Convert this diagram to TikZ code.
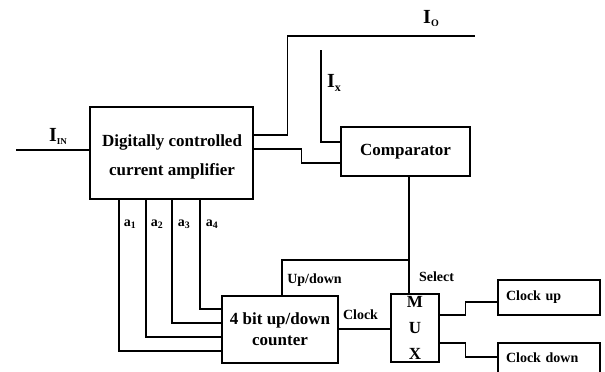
\documentclass[tikz,border=0pt]{standalone}
\usepackage{fontspec}
\setmainfont{Liberation Serif}
\begin{document}
\begin{tikzpicture}[x=1pt,y=-1pt,
  box/.style={draw, line width=1.1pt, inner sep=0pt},
  wire/.style={line width=1.1pt},
  big/.style={font=\bfseries\fontsize{17}{21}\selectfont},
  small/.style={font=\bfseries\fontsize{14}{16}\selectfont},
  clkbox/.style={box, small, text width=86pt, inner xsep=8pt, align=left, minimum width=102pt},
  alab/.style={font=\bfseries\fontsize{14}{16}\selectfont, inner sep=0pt},
  ilab/.style={inner sep=0pt}]
\useasboundingbox (0,0) rectangle (605,372);
\clip (0,0) rectangle (605,372);
% blocks
\node[box, minimum width=163pt, minimum height=92pt] (amp) at (171.5,153) {};
\node[align=center, font=\bfseries\fontsize{17}{29}\selectfont] (ampt) at (172,157) {Digitally controlled\\current amplifier};
\node[box, big, minimum width=129pt, minimum height=49pt] (cmp) at (405.5,151.5) {Comparator};
\node[box, align=center, font=\bfseries\fontsize{17}{21}\selectfont, minimum width=116pt, minimum height=67pt] (cnt) at (280,329.5) {4 bit up/down\\counter};
\node[box, align=center, font=\bfseries\fontsize{17}{26}\selectfont, minimum width=48pt, minimum height=68pt] (mux) at (415,328) {M\\U\\X};
\node[clkbox, minimum height=35pt] (cup) at (549,297.5) {Clock up};
\node[clkbox, minimum height=30pt] (cdn) at (549,358) {Clock down};
% free ends
\coordinate (iin) at (16,150);
\coordinate (io) at (475,36);
\coordinate (ix) at (321,50);
\coordinate (j) at (409,260);
% wires
\draw[wire] (iin) -- ([yshift=3pt]amp.west);
\draw[wire] ([yshift=18pt]amp.east) -- ++(34,0) |- (io);
\draw[wire] ([yshift=4pt]amp.east) -- ++(48,0) |- ([yshift=-11.5pt]cmp.west);
\draw[wire] (ix) |- ([yshift=9.5pt]cmp.west);
\draw[wire] ([xshift=3.5pt]cmp.south) -- ([xshift=-6pt]mux.north);
\draw[wire] (j) -| ([xshift=2pt]cnt.north);
\draw[wire] ([yshift=0.5pt]cnt.east) -- ([yshift=0.5pt]cnt.east -| mux.west);
\draw[wire] ([yshift=13pt]mux.east) -- ++(26,0) |- ([yshift=-4.5pt]cup.west);
\draw[wire] ([yshift=-15pt]mux.east) -- ++(26,0) |- ([yshift=1pt]cdn.west);
\draw[wire] ([xshift=-52.5pt]amp.south) |- ([yshift=-21.5pt]cnt.west);
\draw[wire] ([xshift=-25.5pt]amp.south) |- ([yshift=-7.5pt]cnt.west);
\draw[wire] ([xshift=0.5pt]amp.south) |- ([yshift=6.5pt]cnt.west);
\draw[wire] ([xshift=28.5pt]amp.south) |- ([yshift=20.5pt]cnt.west);
% labels
\node[small] (lud) at (314.5,280) {Up/down};
\node[small] (lsel) at (436.5,277) {Select};
\node[small] (lclk) at (360.5,315) {Clock};
\node[alab] (la1) at (130,224) {a\textsubscript{1}};
\node[alab] (la2) at (157,224) {a\textsubscript{2}};
\node[alab] (la3) at (184,224) {a\textsubscript{3}};
\node[alab] (la4) at (212,224) {a\textsubscript{4}};
\node[ilab] (liin) at (58,136) {\bfseries\fontsize{20}{20}\selectfont I\raisebox{-3pt}{\fontsize{9}{9}\selectfont IN}};
\node[ilab] (lio) at (431,19) {\bfseries\fontsize{20}{20}\selectfont I\raisebox{-3pt}{\fontsize{10}{10}\selectfont O}};
\node[ilab] (lix) at (334,83) {\bfseries\fontsize{20}{20}\selectfont I\raisebox{-4pt}{\fontsize{12}{12}\selectfont x}};
\end{tikzpicture}
\end{document}
